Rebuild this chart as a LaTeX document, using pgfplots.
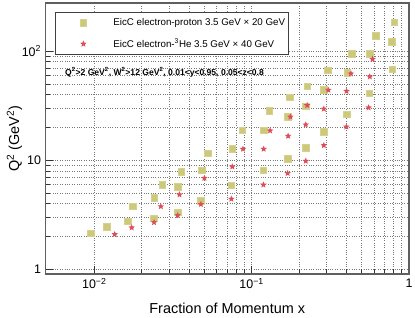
\documentclass[border=0pt]{standalone}
\usepackage{pgfplots}
\pgfplotsset{compat=1.18}
\usepackage{pgfplotstable}
\usepackage{fontspec}
\setmainfont{Liberation Sans}
\definecolor{khaki}{RGB}{206,201,122}
\definecolor{starred}{RGB}{221,78,90}
\definecolor{framegray}{RGB}{95,95,95}
\definecolor{gridgray}{RGB}{120,120,120}
\pgfdeclareplotmark{fstar}{%
  \pgfpathmoveto{\pgfpointpolar{90}{\pgfplotmarksize}}%
  \pgfpathlineto{\pgfpointpolar{126}{0.45\pgfplotmarksize}}%
  \pgfpathlineto{\pgfpointpolar{162}{\pgfplotmarksize}}%
  \pgfpathlineto{\pgfpointpolar{198}{0.45\pgfplotmarksize}}%
  \pgfpathlineto{\pgfpointpolar{234}{\pgfplotmarksize}}%
  \pgfpathlineto{\pgfpointpolar{270}{0.45\pgfplotmarksize}}%
  \pgfpathlineto{\pgfpointpolar{306}{\pgfplotmarksize}}%
  \pgfpathlineto{\pgfpointpolar{342}{0.45\pgfplotmarksize}}%
  \pgfpathlineto{\pgfpointpolar{18}{\pgfplotmarksize}}%
  \pgfpathlineto{\pgfpointpolar{54}{0.45\pgfplotmarksize}}%
  \pgfpathclose
  \pgfusepathqfill}
\pgfplotsset{myleg/.style={legend image code/.code={%
  \draw[##1,only marks] plot coordinates {(28bp,0bp)};%
  \path[draw=none,fill=none] (0bp,-1bp) rectangle (56bp,1bp);}}}
\pgfplotstableread{
x y
0.0095 2.16
0.0120 2.47
0.0163 2.76
0.0176 3.80
0.0238 2.94
0.0241 4.53
0.0270 5.97
0.0338 3.35
0.0338 5.77
0.0357 7.84
0.0476 4.25
0.0480 8.11
0.0528 11.6
0.0741 5.94
0.0753 12.8
0.0873 18.9
0.1188 8.11
0.1193 18.9
0.1297 28.4
0.1694 10.3
0.1694 25.0
0.1746 38.0
0.2208 13.0
0.2208 31.2
0.2254 47.8
0.2877 18.2
0.2877 44.2
0.3036 66.7
0.4013 26.4
0.4040 63.5
0.4310 94.4
0.5600 41.3
0.5650 94.4
0.6170 138
0.7760 122
0.7840 68.6
0.8070 184
}\ep
\pgfplotstableread{
x y
0.0135 2.10
0.0173 2.42
0.0240 2.70
0.0265 3.78
0.0339 3.13
0.0348 4.85
0.0476 3.96
0.0501 6.87
0.0743 4.43
0.0754 8.75
0.0881 12.7
0.1188 5.97
0.1193 12.7
0.1310 18.7
0.1694 7.62
0.1706 16.7
0.1765 25.0
0.2208 9.86
0.2208 21.2
0.2254 31.9
0.2877 13.7
0.2877 29.6
0.3070 44.0
0.4000 20.3
0.4010 43.0
0.4276 62.2
0.5540 30.4
0.5640 58.4
0.5870 84.5
}\eHe
\begin{document}
\begin{tikzpicture}
\begin{axis}[
  at={(0,0)}, anchor=south west,
  scale only axis, width=363.5bp, height=271bp,
  xmode=log, ymode=log,
  xmin=0.0049, xmax=1, ymin=0.91, ymax=276,
  axis line style={framegray, line width=1.1bp},
  tick pos=left, tick align=inside,
  major tick length=8bp, minor tick length=5bp,
  every tick/.style={black!80, line width=0.6bp},
  grid=both,
  major grid style={gridgray, dotted, line width=0.6bp},
  minor grid style={gridgray, dotted, line width=0.6bp},
  xtick={0.01,0.1,1}, xticklabels={10\textsuperscript{−2},10\textsuperscript{−1},1},
  ytick={1,10,100}, yticklabels={1,10,10\textsuperscript{2}},
  tick label style={font=\fontsize{12.5}{14}\selectfont},
  xticklabel style={yshift=-1bp},
  yticklabel style={xshift=-1bp},
  xlabel={Fraction of Momentum x},
  ylabel={Q\textsuperscript{2} (GeV\textsuperscript{2})},
  every axis x label/.style={at={([yshift=-34bp]rel axis cs:0.5,0)}, anchor=center, font=\fontsize{14.5}{16}\selectfont},
  every axis y label/.style={at={([xshift=-31bp]rel axis cs:0,0.5)}, rotate=90, anchor=center, font=\fontsize{14.5}{16}\selectfont},
  legend style={at={(0,1)}, anchor=north west, xshift=9.5bp, yshift=-9bp,
    draw=black!75, line width=0.8bp, fill=white,
    inner xsep=0pt, inner ysep=0pt, row sep=0pt, column sep=0pt,
    nodes={inner sep=0pt, minimum height=21bp},
    font=\fontsize{9.8}{11}\selectfont},
]
\addplot[only marks, mark=square*, mark size=3.3bp, color=khaki, mark options={draw=khaki!85!white, fill=khaki, line width=0.4bp}, myleg] table {\ep};
\addlegendentry{\makebox[177bp][l]{\hspace{2bp}EicC electron-proton 3.5 GeV × 20 GeV}}
\addplot[only marks, mark=fstar, mark size=3.4bp, color=starred, fill=starred, myleg] table {\eHe};
\addlegendentry{\makebox[177bp][l]{\hspace{2bp}EicC electron-\textsuperscript{3}He 3.5 GeV × 40 GeV}}
\node[anchor=west, font=\bfseries\fontsize{8.6}{10}\selectfont, inner sep=0pt] at (rel axis cs:0.0536,0.745)
  {Q\textsuperscript{2}>2 GeV\textsuperscript{2}, W\textsuperscript{2}>12 GeV\textsuperscript{2}, 0.01<y<0.95, 0.05<z<0.8};
\end{axis}
\pgfresetboundingbox
\path (-45.5bp,-44bp) rectangle (369.5bp,274bp);
\end{tikzpicture}
\end{document}
